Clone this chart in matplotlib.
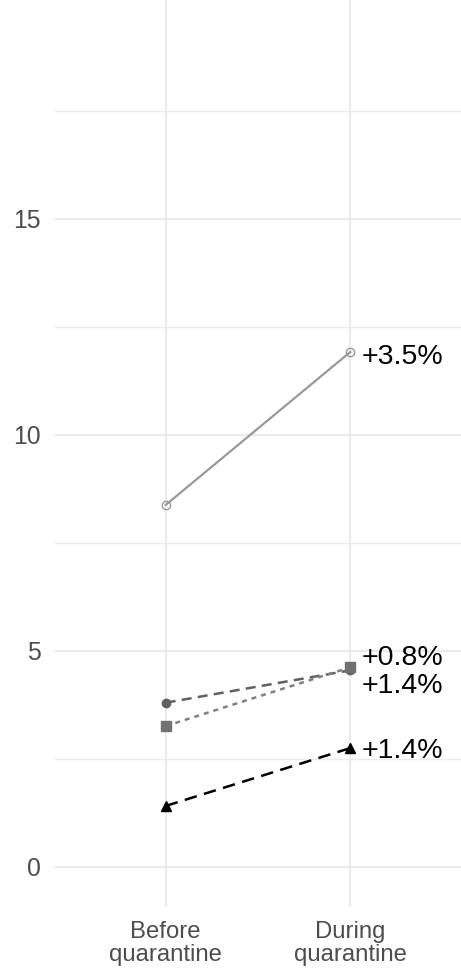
import numpy as np
import matplotlib
matplotlib.use('Agg')
from matplotlib import pyplot as plt

plt.rcParams['font.family'] = ['Liberation Sans', 'DejaVu Sans']

# Data
periods = ['Before\nquarantine', 'During\nquarantine']
open_circle = [8.38, 11.92]
dark_circle = [3.80, 4.55]
square = [3.26, 4.62]
triangle = [1.41, 2.75]
labels = ['+3.5%', '+0.8%', '+1.4%', '+1.4%']
label_y = [11.80, 4.84, 4.18, 2.68]

fig = plt.figure(figsize=(4.61, 9.71), dpi=100)
ax = fig.add_axes([55 / 461, 64 / 971, 406 / 461, 907 / 971])

x = np.arange(1, len(periods) + 1)

ax.plot(x, open_circle, color='#999999', lw=1.6, ls='-', marker='o', ms=6,
        mfc='none', mec='#999999', mew=1.0, zorder=3)
ax.plot(x, dark_circle, color='#606060', lw=1.8, ls=(0, (4, 2.5)), marker='o', ms=6,
        mfc='#606060', mec='#606060', zorder=3)
ax.plot(x, square, color='#808080', lw=1.8, ls=(0, (2, 2)), marker='s', ms=6.5,
        mfc='#707070', mec='#707070', zorder=3)
ax.plot(x, triangle, color='black', lw=1.8, ls=(0, (5, 3)), marker='^', ms=7,
        mfc='black', mec='black', zorder=3)

for txt, yy in zip(labels, label_y):
    ax.text(x[-1] + 0.06, yy, txt, fontsize=20.5, color='black', va='center', ha='left')

ax.set_xlim(0.4, 2.6)
ax.set_ylim(-0.93, 20.07)
ax.set_xticks(x)
ax.set_xticklabels(periods, fontsize=17.2, color='#4D4D4D', linespacing=1.08)
ax.set_yticks([0, 5, 10, 15])
ax.set_yticklabels(['0', '5', '10', '15'], fontsize=17.8, color='#4D4D4D')
ax.set_yticks([2.5, 7.5, 12.5, 17.5], minor=True)

ax.grid(True, which='major', color='#EBEBEB', lw=1.6)
ax.grid(True, which='minor', axis='y', color='#EBEBEB', lw=1.0)
ax.tick_params(axis='x', which='both', length=0, pad=10)
ax.tick_params(axis='y', which='both', length=0, pad=10)
for s in ax.spines.values():
    s.set_visible(False)
ax.set_axisbelow(True)

fig.savefig('out.png', dpi=100, facecolor='white')
